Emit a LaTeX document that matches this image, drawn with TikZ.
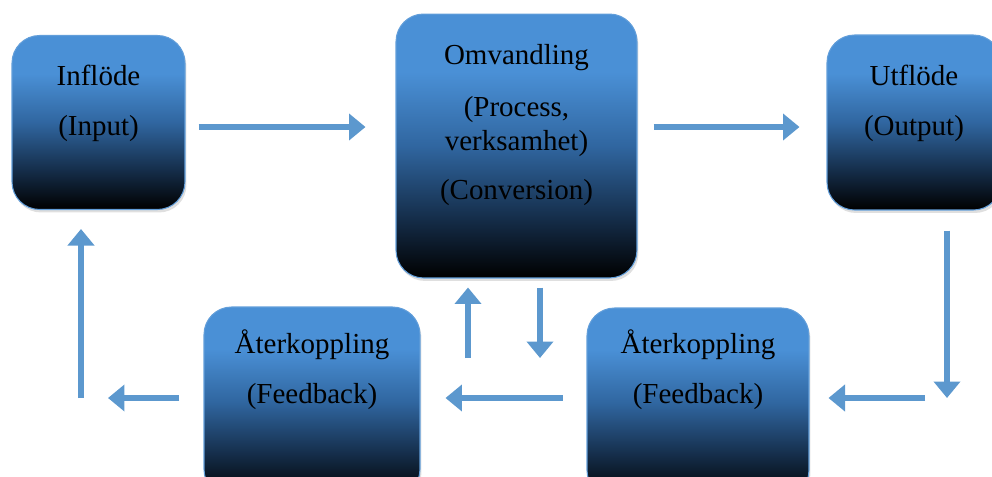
\documentclass[tikz,border=0pt]{standalone}
\usepackage{fontspec}
\setmainfont{Liberation Serif}
\usetikzlibrary{arrows.meta,shadows}
\definecolor{boxtop}{RGB}{74,144,214}
\definecolor{boxmid}{RGB}{48,102,160}
\definecolor{boxlow}{RGB}{22,48,78}
\definecolor{boxedge}{RGB}{98,158,218}
\definecolor{flowblue}{RGB}{92,152,206}
\pgfdeclareverticalshading{boxfade}{100bp}{color(0bp)=(black); color(25bp)=(black); color(37bp)=(boxlow); color(50bp)=(boxmid); color(64bp)=(boxtop); color(100bp)=(boxtop)}

\begin{document}
\begin{tikzpicture}[x=0.02cm,y=-0.02cm,
    box/.style={rectangle, rounded corners=0.55cm, draw=boxedge, line width=0.6pt, shading=boxfade,
                drop shadow={opacity=0.25, shadow xshift=0.03cm, shadow yshift=-0.06cm}},
    lbl/.style={align=center, inner sep=0pt, font=\fontsize{16.5}{19}\selectfont},
    flow/.style={draw=flowblue, line width=3pt, -{Triangle[width=0.52cm,length=0.33cm]}}]
  \useasboundingbox (0,0) rectangle (992,477);

  \node[box, minimum width=3.46cm, minimum height=3.48cm] (in) at (98.5,122.5) {};
  \node[box, minimum width=4.82cm, minimum height=5.28cm] (conv) at (516.5,146) {};
  \node[box, minimum width=3.48cm, minimum height=3.5cm] (out) at (914,122.5) {};
  \node[box, minimum width=4.32cm, minimum height=3.8cm] (fbl) at (312,402) {};
  \node[box, minimum width=4.44cm, minimum height=3.8cm] (fbr) at (698,403) {};

  \node[lbl] (inT) at (98.5,103) {Inflöde\\[9.5pt](Input)};
  \node[lbl] (convT) at (516.5,125) {Omvandling\\[10.6pt](Process,\\verksamhet)\\[8.9pt](Conversion)};
  \node[lbl] (outT) at (914,103) {Utflöde\\[9.5pt](Output)};
  \node[lbl] (fblT) at (312,370) {Återkoppling\\[9.5pt](Feedback)};
  \node[lbl] (fbrT) at (698,370) {Återkoppling\\[9.5pt](Feedback)};

  \coordinate (row) at (0,127);
  \coordinate (ret) at (947,398);
  \coordinate (up) at (468,358);
  \coordinate (down) at (540,358);
  \coordinate (back) at (81,398);

  \draw[flow, shorten <=0.26cm, shorten >=0.6cm] (in.east |- row) -- (conv.west |- row);
  \draw[flow, shorten <=0.32cm, shorten >=0.54cm] (conv.east |- row) -- (out.west |- row);
  \draw[flow, shorten <=0.4cm] (ret |- out.south) -- (ret);
  \draw[flow, shorten <=0.44cm, shorten >=0.38cm] (ret) -- (fbr.east |- ret);
  \draw[flow, shorten <=0.48cm, shorten >=0.5cm] (fbr.west |- ret) -- (fbl.east |- ret);
  \draw[flow, shorten >=0.18cm] (up) -- (up |- conv.south);
  \draw[flow, shorten <=0.18cm] (down |- conv.south) -- (down);
  \draw[flow, shorten <=0.48cm, shorten >=0.54cm] (fbl.west |- ret) -- (back);
  \draw[flow, shorten >=0.38cm] (back) -- (back |- in.south);
\end{tikzpicture}
\end{document}
